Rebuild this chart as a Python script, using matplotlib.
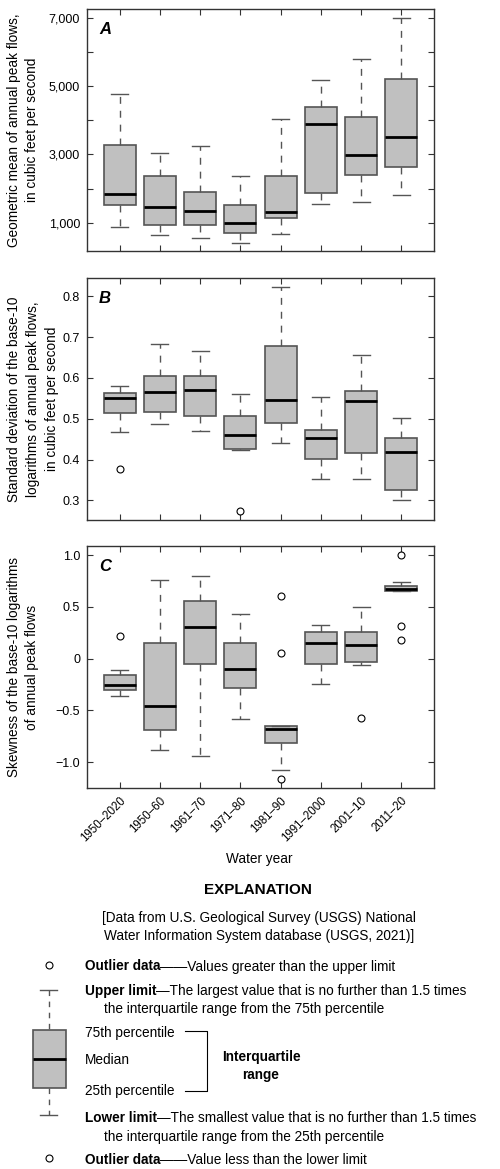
import matplotlib
matplotlib.use('Agg')
import matplotlib.pyplot as plt
from matplotlib.patches import Rectangle

plt.rcParams['font.family'] = ['Liberation Sans Narrow', 'Liberation Sans', 'DejaVu Sans']

periods = ['1950–2020', '1950–60', '1961–70', '1971–80', '1981–90', '1991–2000', '2001–10', '2011–20']

# Panel A: geometric mean of annual peak flows (cfs)
a_whislo = [882, 627, 548, 410, 656, 1550, 1619, 1805]
a_q1 = [1530, 941, 921, 686, 1147, 1864, 2385, 2640]
a_med = [1854, 1471, 1343, 1000, 1314, 3887, 2984, 3504]
a_q3 = [3278, 2365, 1913, 1530, 2375, 4398, 4083, 5213]
a_whishi = [4781, 3042, 3258, 2365, 4024, 5183, 5782, 7000]
a_fliers = [[], [], [], [], [], [], [], []]

# Panel B: standard deviation of log10 peak flows
b_whislo = [0.467, 0.487, 0.470, 0.423, 0.441, 0.352, 0.352, 0.302]
b_q1 = [0.514, 0.516, 0.508, 0.425, 0.490, 0.402, 0.416, 0.326]
b_med = [0.550, 0.565, 0.570, 0.461, 0.545, 0.452, 0.543, 0.418]
b_q3 = [0.564, 0.604, 0.606, 0.506, 0.679, 0.472, 0.567, 0.453]
b_whishi = [0.580, 0.684, 0.666, 0.561, 0.824, 0.553, 0.656, 0.502]
b_fliers = [[0.377], [], [], [0.274], [], [], [], []]

# Panel C: skewness of log10 peak flows
c_whislo = [-0.359, -0.881, -0.942, -0.578, -1.075, -0.240, -0.060, 0.656]
c_q1 = [-0.301, -0.691, -0.053, -0.285, -0.817, -0.053, -0.037, 0.656]
c_med = [-0.253, -0.456, 0.308, -0.101, -0.682, 0.153, 0.127, 0.675]
c_q3 = [-0.153, 0.150, 0.559, 0.153, -0.647, 0.262, 0.256, 0.701]
c_whishi = [-0.105, 0.758, 0.800, 0.430, -0.647, 0.327, 0.501, 0.737]
c_fliers = [[0.221], [], [], [], [0.604, 0.057, -1.162], [], [-0.575], [1.0, 0.311, 0.176]]

a_ticks = [1000, 2000, 3000, 4000, 5000, 6000, 7000]
a_ticklabels = ['1,000', '', '3,000', '', '5,000', '', '7,000']
b_ticks = [0.3, 0.4, 0.5, 0.6, 0.7, 0.8]
b_ticklabels = ['0.3', '0.4', '0.5', '0.6', '0.7', '0.8']
c_ticks = [-1.0, -0.5, 0, 0.5, 1.0]
c_ticklabels = ['\u22121.0', '\u22120.5', '0', '0.5', '1.0']

W, H = 500, 1169
fig = plt.figure(figsize=(W / 100, H / 100), dpi=100)

BOX_FACE = '#c0c0c0'
EDGE = '#555555'
SPINE = '#333333'
TICKFS = 9
LABELFS = 9.8


def px_axes(left, top, right, bottom):
    return fig.add_axes([left / W, 1 - bottom / H, (right - left) / W, (bottom - top) / H])


def draw_panel(ax, whislo, q1, med, q3, whishi, fliers, ylim, ticks, ticklabels, ylabel, letter, labelx):
    stats = [dict(med=m, q1=a, q3=b, whislo=lo, whishi=hi, fliers=f)
             for lo, a, m, b, hi, f in zip(whislo, q1, med, q3, whishi, fliers)]
    pos = list(range(1, len(stats) + 1))
    ax.bxp(stats, positions=pos, widths=0.8, capwidths=0.42, patch_artist=True,
           manage_ticks=False,
           boxprops=dict(facecolor=BOX_FACE, edgecolor=EDGE, linewidth=1.2),
           medianprops=dict(color='black', linewidth=2.0, solid_capstyle='butt'),
           whiskerprops=dict(color=EDGE, linewidth=1.0, linestyle=(0, (5, 5))),
           capprops=dict(color=EDGE, linewidth=1.0),
           flierprops=dict(marker='o', markerfacecolor='white', markeredgecolor='black',
                           markersize=5, markeredgewidth=0.8))
    ax.set_xlim(0.19, 8.81)
    ax.set_ylim(*ylim)
    ax.set_xticks(pos)
    ax.set_yticks(ticks)
    ax.set_yticklabels(ticklabels, fontsize=TICKFS)
    ax.tick_params(direction='in', length=4, width=0.8, color=SPINE, top=True, right=True, pad=5)
    for s in ax.spines.values():
        s.set_color(SPINE)
        s.set_linewidth(1.0)
    ax.set_ylabel(ylabel, fontsize=LABELFS, linespacing=1.45)
    ax.yaxis.set_label_coords(labelx, 0.5)
    ax.text(0.035, 0.945, letter, transform=ax.transAxes, fontsize=12, fontweight='bold',
            fontstyle='italic', va='top', ha='left')


axA = px_axes(87, 9, 434, 251)
draw_panel(axA, a_whislo, a_q1, a_med, a_q3, a_whishi, a_fliers, (170, 7260), a_ticks, a_ticklabels,
           'Geometric mean of annual peak flows,\nin cubic feet per second', 'A', -0.137)
axA.set_xticklabels([])

axB = px_axes(87, 278, 434, 520)
draw_panel(axB, b_whislo, b_q1, b_med, b_q3, b_whishi, b_fliers, (0.252, 0.845), b_ticks, b_ticklabels,
           'Standard deviation of the base-10\nlogarithms of annual peak flows,\nin cubic feet per second', 'B', -0.080)
axB.set_xticklabels([])

axC = px_axes(87, 546, 434, 788)
draw_panel(axC, c_whislo, c_q1, c_med, c_q3, c_whishi, c_fliers, (-1.248, 1.087), c_ticks, c_ticklabels,
           'Skewness of the base-10 logarithms\nof annual peak flows', 'C', -0.137)
axC.set_xticklabels(periods, rotation=45, ha='right', rotation_mode='anchor', fontsize=8.3)

# Explanation drawn in pixel coordinates
ex = fig.add_axes([0, 0, 1, 1], zorder=-1)
ex.set_xlim(0, W)
ex.set_ylim(H, 0)
ex.axis('off')

TFS = 9.8
ex.text(259, 859, 'Water year', fontsize=LABELFS, ha='center', va='center')
ex.text(258, 890, 'EXPLANATION', fontsize=11, fontweight='bold', ha='center', va='center')
ex.text(259, 927, '[Data from U.S. Geological Survey (USGS) National\nWater Information System database (USGS, 2021)]',
        fontsize=TFS, ha='center', va='center', linespacing=1.35)


def item(y, bold, rest):
    t = ex.text(85, y, bold, fontsize=TFS, fontweight='bold', ha='left', va='center_baseline')
    ex.annotate(rest, xy=(1, y), xycoords=(t, 'data'), fontsize=TFS, ha='left', va='center_baseline')


# symbols
ex.plot([49], [965], marker='o', markersize=5, markerfacecolor='white', markeredgecolor='black', markeredgewidth=0.8)
ex.plot([49], [1158], marker='o', markersize=5, markerfacecolor='white', markeredgecolor='black', markeredgewidth=0.8)
ex.plot([40, 57], [990, 990], color=EDGE, lw=1.0)
ex.plot([40, 57], [1115, 1115], color=EDGE, lw=1.0)
ex.plot([49, 49], [990, 1030], color=EDGE, lw=1.0, linestyle=(0, (4, 4)))
ex.plot([49, 49], [1088, 1115], color=EDGE, lw=1.0, linestyle=(0, (4, 4)))
ex.add_patch(Rectangle((33, 1030), 33, 58, facecolor=BOX_FACE, edgecolor=EDGE, lw=1.2))
ex.plot([33, 66], [1059, 1059], color='black', lw=2.0, solid_capstyle='butt')

item(965, 'Outlier data', '——Values greater than the upper limit')
item(989, 'Upper limit', '—The largest value that is no further than 1.5 times')
ex.text(104, 1007, 'the interquartile range from the 75th percentile', fontsize=TFS, ha='left', va='center_baseline')
ex.text(85, 1031, '75th percentile', fontsize=TFS, ha='left', va='center_baseline')
ex.text(85, 1059, 'Median', fontsize=TFS, ha='left', va='center_baseline')
ex.text(85, 1090, '25th percentile', fontsize=TFS, ha='left', va='center_baseline')
ex.plot([185, 207, 207, 185], [1031, 1031, 1091, 1091], color='black', lw=0.8)
ex.text(261, 1066, 'Interquartile\nrange', fontsize=TFS, fontweight='bold', ha='center', va='center',
        linespacing=1.45)
item(1116, 'Lower limit', '—The smallest value that is no further than 1.5 times')
ex.text(104, 1135, 'the interquartile range from the 25th percentile', fontsize=TFS, ha='left', va='center_baseline')
item(1158, 'Outlier data', '——Value less than the lower limit')

fig.savefig('out.png', dpi=100)
